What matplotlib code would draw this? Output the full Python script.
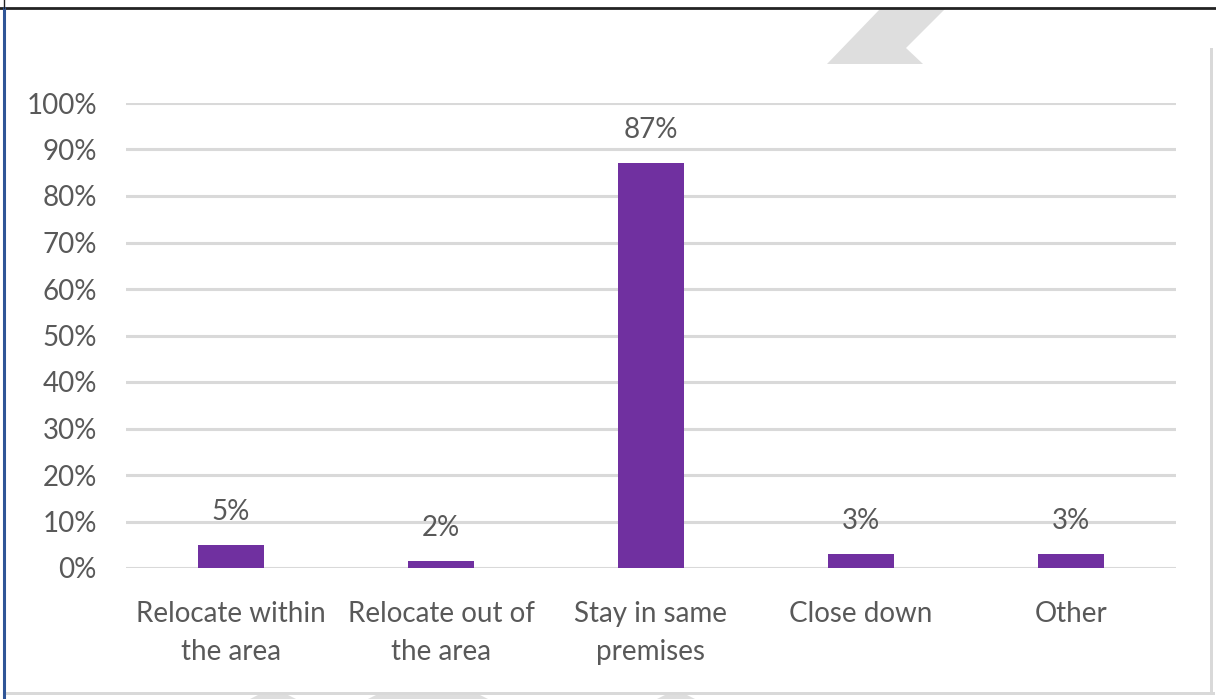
import matplotlib.pyplot as plt
from matplotlib.patches import Polygon, Rectangle
from matplotlib.lines import Line2D

# dados
categories = ['Relocate within\nthe area', 'Relocate out of\nthe area',
              'Stay in same\npremises', 'Close down', 'Other']
values = [5, 1.5, 87, 3, 3]
labels = ['5%', '2%', '87%', '3%', '3%']
yticks = list(range(0, 101, 10))

plt.rcParams['font.family'] = ['Lato', 'DejaVu Sans']
text_color = '#595959'
bar_color = '#7030A0'
grid_color = '#D9D9D9'

fig = plt.figure(figsize=(12.16, 6.99), dpi=100)
W, H = 1216, 699

# moldura e marcas d'agua da captura de tela
def fx(x):
    return x / W

def fy(y):
    return 1 - y / H

fig.add_artist(Polygon([(fx(880), fy(9)), (fx(945), fy(9)), (fx(906), fy(48)),
                        (fx(923), fy(64)), (fx(827), fy(64))],
                       closed=True, transform=fig.transFigure, color='#DEDEDE', lw=0))
for x0, x1 in [(250, 296), (368, 488), (657, 695)]:
    fig.add_artist(Polygon([(fx(x0), fy(699)), (fx(x0 + 8), fy(695)),
                            (fx(x1 - 8), fy(695)), (fx(x1), fy(699))],
                           closed=True, transform=fig.transFigure, color='#DEDEDE', lw=0))
fig.add_artist(Rectangle((fx(5), fy(695)), fx(1210), 3 / H,
                         transform=fig.transFigure, color='#D9D9D9', lw=0))
fig.add_artist(Rectangle((fx(1210), fy(695)), 3 / W, (695 - 48) / H,
                         transform=fig.transFigure, color='#D9D9D9', lw=0))
fig.add_artist(Line2D([0, 1], [fy(7.5), fy(7.5)], transform=fig.transFigure,
                      color='#222222', lw=2))
fig.add_artist(Line2D([fx(4), fx(4)], [0, fy(7.5)], transform=fig.transFigure,
                      color='#2F5597', lw=2.2))
fig.add_artist(Line2D([fx(4), fx(4)], [fy(7.5), 1], transform=fig.transFigure,
                      color='#222222', lw=1))

# grafico
ax = fig.add_axes([fx(126), fy(568), (1176 - 126) / W, (568 - 103) / H])
x = range(len(categories))
bars = ax.bar(x, values, width=0.31, color=bar_color, zorder=3)
for b, lab in zip(bars, labels):
    ax.text(b.get_x() + b.get_width() / 2, b.get_height() + 4.3, lab,
            ha='center', va='bottom', fontsize=20, color=text_color)

ax.set_xlim(-0.5, len(categories) - 0.5)
ax.set_ylim(0, 100)
ax.set_yticks(yticks)
ax.set_yticklabels([f'{t}%' for t in yticks])
ax.set_xticks(list(x))
ax.set_xticklabels(categories, linespacing=1.55)
ax.yaxis.grid(True, color=grid_color, lw=2.2, zorder=0)
ax.tick_params(axis='both', length=0, labelsize=20, labelcolor=text_color)
ax.tick_params(axis='y', pad=21)
ax.tick_params(axis='x', pad=24)
for s in ['top', 'right', 'left', 'bottom']:
    ax.spines[s].set_visible(False)

plt.savefig('out.png', dpi=100)
